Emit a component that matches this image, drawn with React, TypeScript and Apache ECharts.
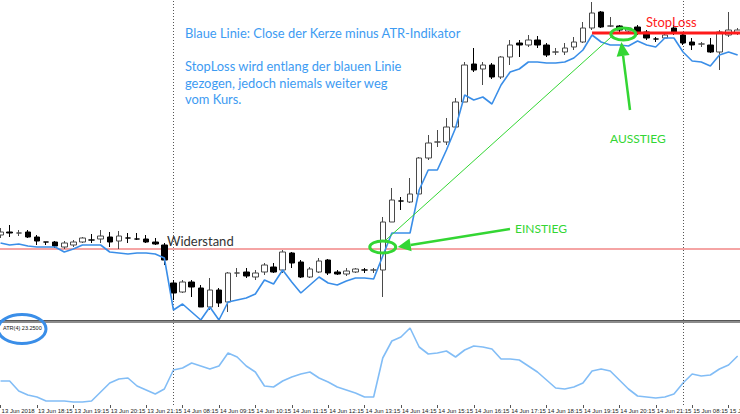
import React, { useEffect, useRef } from "react";
import * as echarts from "echarts";

// ---- data (prices in index points, 15-minute candles) ----
const opens = [
  12885, 12888, 12887, 12888, 12883, 12878, 12878, 12873, 12875, 12878,
  12880, 12881, 12883, 12879, 12882, 12881, 12881, 12878, 12875, 12837,
  12828, 12838, 12832, 12813, 12830, 12818, 12847, 12848, 12843, 12848,
  12853, 12850, 12867, 12858, 12843, 12848, 12860, 12848, 12846, 12848,
  12850, 12850, 12850, 12898, 12919, 12918, 12926, 12962, 12978, 12978,
  12993, 13018, 13056, 13051, 13055, 13043, 13063, 13077, 13075, 13080,
  13075, 13068, 13068, 13073, 13078, 13092, 13108, 13094, 13094, 13089,
  13093, 13088, 13081, 13082, 13092, 13085, 13078, 13076, 13075, 13068,
  13085, 13087,
];
const closes = [
  12888, 12887, 12887, 12883, 12879, 12878, 12874, 12877, 12878, 12882,
  12880, 12884, 12878, 12884, 12882, 12881, 12878, 12876, 12860, 12827,
  12838, 12833, 12813, 12830, 12817, 12847, 12847, 12844, 12847, 12855,
  12848, 12868, 12857, 12843, 12851, 12859, 12847, 12846, 12849, 12851,
  12850, 12850, 12898, 12920, 12919, 12926, 12962, 12977, 12978, 12993,
  13018, 13055, 13050, 13055, 13043, 13063, 13075, 13075, 13080, 13075,
  13065, 13068, 13072, 13078, 13092, 13107, 13093, 13094, 13090, 13092,
  13087, 13082, 13081, 13085, 13087, 13077, 13075, 13076, 13068, 13088,
  13090, 13090,
];
const lows = [
  12882, 12883, 12884, 12882, 12875, 12875, 12872, 12871, 12873, 12877,
  12877, 12877, 12873, 12871, 12877, 12880, 12877, 12875, 12855, 12820,
  12827, 12823, 12813, 12810, 12813, 12808, 12843, 12842, 12840, 12845,
  12847, 12847, 12852, 12842, 12842, 12847, 12845, 12845, 12844, 12847,
  12847, 12847, 12823, 12898, 12910, 12917, 12925, 12960, 12973, 12975,
  12992, 13018, 13048, 13035, 13041, 13041, 13055, 13063, 13073, 13072,
  13063, 13065, 13065, 13070, 13077, 13090, 13092, 13093, 13088, 13087,
  13085, 13080, 13078, 13081, 13085, 13075, 13070, 13073, 13067, 13050,
  13083, 13085,
];
const highs = [
  12892, 12895, 12890, 12890, 12885, 12878, 12879, 12879, 12880, 12883,
  12886, 12890, 12888, 12889, 12887, 12887, 12885, 12882, 12877, 12840,
  12840, 12840, 12835, 12842, 12832, 12848, 12852, 12852, 12850, 12857,
  12857, 12870, 12868, 12860, 12853, 12862, 12861, 12850, 12852, 12852,
  12852, 12852, 12903, 12932, 12923, 12942, 12963, 12985, 12990, 13002,
  13022, 13058, 13072, 13058, 13057, 13064, 13080, 13080, 13085, 13084,
  13077, 13072, 13077, 13083, 13098, 13118, 13109, 13103, 13095, 13093,
  13095, 13090, 13083, 13087, 13095, 13087, 13082, 13078, 13082, 13090,
  13108, 13092,
];
// blue line: close minus ATR
const closeMinusAtr = [
  12877, 12875, 12876, 12874, 12873, 12873, 12873, 12868, 12871, 12875,
  12875, 12875, 12868, 12867, 12866, 12867, 12867, 12866, 12862, 12810,
  12816, 12808, 12800, 12813, 12800, 12818, 12820, 12822, 12826, 12840,
  12836, 12850, 12838, 12827, 12835, 12843, 12837, 12835, 12839, 12842,
  12842, 12841, 12864, 12887, 12887, 12887, 12930, 12950, 12950, 12970,
  12992, 13025, 13020, 13023, 13016, 13035, 13048, 13051, 13058, 13058,
  13057, 13057, 13058, 13062, 13070, 13085, 13078, 13075, 13075, 13074,
  13079, 13075, 13073, 13082, 13082, 13068, 13059, 13058, 13054, 13065,
  13068, 13065,
];
const atrValues = [
  10.8, 10.8, 6.3, 4.5, 3.6, 1.8, 1.8, 1.8, 1.35, 1.35,
  1.8, 5.85, 9.9, 11.7, 12.15, 8.55, 6.75, 4.95, 7.2, 15.75,
  16.65, 18.9, 17.55, 16.2, 17.55, 23.4, 21.6, 17.55, 14.85, 8.55,
  8.1, 10.8, 12.6, 13.95, 14.85, 12.15, 10.35, 8.1, 6.75, 5.4,
  3.6, 3.6, 21.15, 28.8, 30.6, 34.65, 26.1, 22.95, 23.4, 24.3,
  21.6, 24.75, 26.55, 26.1, 25.2, 20.7, 20.7, 20.25, 17.55, 14.85,
  11.25, 7.65, 7.2, 8.1, 9.9, 15.3, 16.2, 15.3, 11.25, 7.2,
  4.05, 3.6, 3.15, 3.6, 4.95, 9.9, 13.95, 13.05, 13.5, 16.2,
  18, 22.05,
];
const tickLabels = [
  "13 Jun 2018", "13 Jun 18:15", "13 Jun 19:15", "13 Jun 20:15", "13 Jun 21:15",
  "14 Jun 08:15", "14 Jun 09:15", "14 Jun 10:15", "14 Jun 11:15", "14 Jun 12:15",
  "14 Jun 13:15", "14 Jun 14:15", "14 Jun 15:15", "14 Jun 16:15", "14 Jun 17:15",
  "14 Jun 18:15", "14 Jun 19:15", "14 Jun 20:15", "14 Jun 21:15", "15 Jun 08:15",
  "15 Jun 09:15",
];
// sessions: [day label, start hour, start minute, number of bars]
const sessions: [string, number, number, number][] = [
  ["13 Jun", 17, 15, 19],
  ["14 Jun", 8, 0, 56],
  ["15 Jun", 8, 0, 7],
];
const resistance = 12871;
const stopLoss = 13087;
const stopStartIndex = 65;
const entryIndex = 42;
const entryPrice = 12873;
const exitIndex = 68;
const exitPrice = 13086;
const daySeparatorIndices = [19, 75];
const atrLabel = "ATR(4) 23.2500";

const times: string[] = [];
sessions.forEach(([day, h, m, n]) => {
  for (let k = 0; k < n; k++) {
    const tot = h * 60 + m + k * 15;
    const hh = String(Math.floor(tot / 60)).padStart(2, "0");
    const mm = String(tot % 60).padStart(2, "0");
    times.push(`${day} ${hh}:${mm}`);
  }
});

const GREEN = "#33d633";
const BLUE_TXT = "#3d9bf2";

function arrow(x1: number, y1: number, x2: number, y2: number, head: number, half: number, color: string, width: number) {
  const dx = x2 - x1, dy = y2 - y1;
  const len = Math.hypot(dx, dy);
  const ux = dx / len, uy = dy / len;
  const bx = x2 - ux * head, by = y2 - uy * head;
  const px = -uy * half, py = ux * half;
  return [
    { type: "line", z: 100, shape: { x1, y1, x2: bx, y2: by }, style: { stroke: color, lineWidth: width } },
    { type: "polygon", z: 100, shape: { points: [[x2, y2], [bx + px, by + py], [bx - px, by - py]] }, style: { fill: color } },
  ];
}

function txt(x: number, y: number, text: string, fill: string, size: number, family = "Lato", weight: any = "normal") {
  return {
    type: "text", z: 101, x, y,
    style: { text, fill, fontSize: size, fontFamily: family, fontWeight: weight, verticalAlign: "middle", textVerticalAlign: "middle", align: "left" },
  };
}

export default function App() {
  const ref = useRef<HTMLDivElement>(null);
  useEffect(() => {
    const chart = echarts.init(ref.current!, null, { renderer: "svg" });
    const candles = opens.map((o, i) => [o, closes[i], lows[i], highs[i]]);
    const sepLines = daySeparatorIndices.map((i) => ({ xAxis: times[i] }));
    chart.setOption({
      animation: false,
      backgroundColor: "#ffffff",
      grid: [
        { left: -4, right: -2.2, top: 0, height: 320, containLabel: false, outerBoundsMode: "none" },
        { left: -4, right: -2.2, top: 323, height: 82, containLabel: false, outerBoundsMode: "none" },
      ],
      xAxis: [
        { type: "category", data: times, gridIndex: 0, boundaryGap: true, show: false },
        {
          type: "category", data: times, gridIndex: 1, boundaryGap: true,
          axisLine: { show: false },
          axisTick: { show: true, interval: 3, alignWithLabel: true, length: 3, lineStyle: { color: "#555" } },
          axisLabel: {
            interval: 3, align: "left", fontSize: 6, fontFamily: "Liberation Sans", color: "#222", margin: 3,
            padding: [0, 0, 0, 1], hideOverlap: false,
            formatter: (_v: string, i: number) => tickLabels[i / 4] ?? "",
          },
          splitLine: { show: false },
        },
      ],
      yAxis: [
        { type: "value", gridIndex: 0, min: 12800, max: 13120, show: false, splitLine: { show: false } },
        { type: "value", gridIndex: 1, min: 0, max: 36.9, show: false, splitLine: { show: false } },
      ],
      series: [
        {
          type: "candlestick", xAxisIndex: 0, yAxisIndex: 0, data: candles, barWidth: 6, z: 3,
          itemStyle: { color: "#ffffff", color0: "#000000", borderColor: "#4a4a4a", borderColor0: "#000000", borderWidth: 1 },
          markLine: {
            silent: true, symbol: ["none", "none"], label: { show: false }, z: 1,
            data: [
              { yAxis: resistance, lineStyle: { color: "#f28686", width: 1.5, type: "solid" } },
              ...sepLines.map((d) => ({ ...d, lineStyle: { color: "#555", width: 1, type: [1, 2] } })),
            ],
          },
        },
        {
          type: "line", xAxisIndex: 0, yAxisIndex: 0, data: closeMinusAtr, symbol: "none", z: 4,
          lineStyle: { color: "#3a8ee8", width: 1.6 },
        },
        {
          type: "line", xAxisIndex: 1, yAxisIndex: 1, data: atrValues, symbol: "none",
          lineStyle: { color: "#82bdf6", width: 1.6 },
          markLine: {
            silent: true, symbol: ["none", "none"], label: { show: false },
            data: sepLines.map((d) => ({ ...d, lineStyle: { color: "#555", width: 1, type: [1, 2] } })),
          },
        },
      ],
    });

    const toPx = (i: number, v: number) => chart.convertToPixel({ xAxisIndex: 0, yAxisIndex: 0 }, [i, v]) as number[];
    const entry = toPx(entryIndex, entryPrice);
    const exitP = toPx(exitIndex, exitPrice);
    const ex = exitP[0] + 4, ey = exitP[1];
    const sl = toPx(stopStartIndex, stopLoss);

    chart.setOption({
      graphic: [
        { type: "rect", z: 100, shape: { x: 0, y: 320, width: 740, height: 3 }, style: { fill: "#8c8c8c" } },
        { type: "line", z: 100, shape: { x1: 0, y1: 320.5, x2: 740, y2: 320.5 }, style: { stroke: "#555", lineWidth: 1 } },
        txt(3, 327.5, atrLabel, "#111", 5.5, "Liberation Sans"),
        { type: "ellipse", z: 101, shape: { cx: 22, cy: 329, rx: 24, ry: 14.5 }, style: { fill: "none", stroke: "#3a8ee8", lineWidth: 3 } },
        txt(185, 33, "Blaue Linie: Close der Kerze minus ATR-Indikator", BLUE_TXT, 12.9),
        txt(185, 66, "StopLoss wird entlang der blauen Linie", BLUE_TXT, 12.9),
        txt(185, 82.5, "gezogen, jedoch niemals weiter weg", BLUE_TXT, 12.9),
        txt(185, 99, "vom Kurs.", BLUE_TXT, 12.9),
        txt(167, 241, "Widerstand", "#333", 13),
        { type: "line", z: 100, shape: { x1: sl[0], y1: sl[1], x2: 740, y2: sl[1] }, style: { stroke: "#ff1a1a", lineWidth: 3 } },
        txt(sl[0] + 54, sl[1] - 11, "StopLoss", "#ff2020", 13),
        { type: "line", z: 100, shape: { x1: entry[0] + 2, y1: entry[1] - 6, x2: ex - 10, y2: ey + 1 }, style: { stroke: GREEN, lineWidth: 1 } },
        { type: "ellipse", z: 101, shape: { cx: entry[0], cy: entry[1], rx: 13, ry: 6 }, style: { fill: "none", stroke: GREEN, lineWidth: 3 } },
        { type: "ellipse", z: 101, shape: { cx: ex, cy: ey, rx: 12.5, ry: 6 }, style: { fill: "none", stroke: GREEN, lineWidth: 3 } },
        ...arrow(510, 229, entry[0] + 15, entry[1], 13, 6.5, GREEN, 2.5),
        ...arrow(630, 110, ex - 2, ey + 8, 14, 6.5, GREEN, 2.5),
        txt(515, 228, "EINSTIEG", GREEN, 12),
        txt(610, 138, "AUSSTIEG", GREEN, 12),
      ],
    });
    return () => chart.dispose();
  }, []);
  return (
    <div
      ref={ref}
      style={{ position: "fixed", left: 0, top: 0, width: 740, height: 414, background: "#fff" }}
    />
  );
}
